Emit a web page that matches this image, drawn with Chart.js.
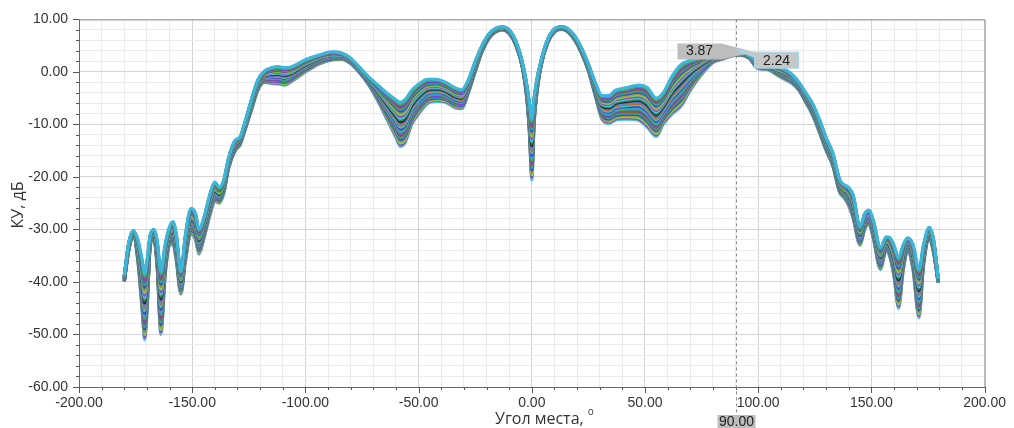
<!DOCTYPE html>
<html>
<head>
<meta charset="utf-8">
<script src="https://cdn.jsdelivr.net/npm/chart.js@4/dist/chart.umd.min.js"></script>
<style>
  html, body { margin: 0; padding: 0; background: #fff; }
  #wrap { width: 1014px; height: 428px; }
</style>
</head>
<body>
<div id="wrap"><canvas id="chart" width="1014" height="428"></canvas></div>
<script>
// elevation angle, deg
const angles = [
  -180, -178, -176, -174, -172, -171, -170, -168.5, -167, -165.5, -163.8, -162, -160, -158.5, -157, -155,
  -153, -150.5, -148.5, -147, -145, -142, -140, -138, -136, -134, -131, -129, -127, -124, -121, -118,
  -115, -112, -109, -106, -100, -94, -88, -84, -80, -76, -72, -68, -64, -60, -58, -56,
  -53, -50, -46, -42, -38, -34, -31, -28, -25, -22, -19, -16, -13, -10, -7, -4,
  -2, -1, 0, 1, 2, 4, 7, 10, 13, 16, 19, 22, 25, 28, 31, 34,
  37, 42, 47, 51, 55, 58, 62, 66, 70, 75, 80, 84, 88, 92, 96, 100,
  104, 108, 112, 115, 118, 121, 124, 127, 130, 133, 136, 138, 140, 142, 145, 147,
  149, 151, 154, 156.5, 158, 160, 162, 164, 166, 168.5, 171, 173, 175.5, 177.5, 179.5
]
// upper edge of the pattern bundle, dB
const upperDb = [
  -38.8, -32.5, -30.2, -32, -36, -38.5, -36, -31, -30, -32, -38, -33, -29.5, -28.5, -31, -38,
  -31, -26, -27, -30, -28, -23, -21, -22, -20.5, -16.5, -13, -12.5, -10, -5.5, -1.5, 0.2,
  0.8, 1.0, 0.8, 1.0, 2.3, 3.2, 3.8, 3.6, 2.6, 0.8, -1.0, -2.5, -4.0, -5.3, -5.8, -5.3,
  -3.5, -2.3, -1.4, -1.4, -2.0, -3.0, -3.4, -1.5, 2.0, 5.0, 7.2, 8.3, 8.6, 8.0, 5.8, 1.5,
  -3, -6, -9, -5, -2, 2.0, 6.2, 8.2, 8.6, 8.2, 6.8, 4.5, 1.5, -2.0, -4.5, -4.5,
  -3.5, -3.0, -2.5, -3.0, -5.0, -4.0, -0.8, 1.4, 2.2, 2.8, 3.5, 3.6, 3.7, 3.7, 3.2, 1.8,
  1.4, 1.1, 0.4, -0.5, -2.0, -4.0, -6.0, -9, -12.5, -15.5, -20.5, -21.5, -22, -23.5, -29.5, -27,
  -26.3, -28.5, -33.5, -31.4, -31.5, -33, -35.4, -33, -31.6, -33, -37.6, -33, -29.6, -32, -39.4
]
// lower edge of the pattern bundle, dB
const lowerDb = [
  -40, -34, -31.3, -36, -46, -51, -46, -33, -31.8, -37, -50, -39, -33, -32.8, -36, -42.3,
  -36, -31, -32, -34.7, -32, -27, -24.6, -25, -23, -18.5, -15, -14, -11.5, -7.5, -3.5, -2,
  -2.2, -2.3, -2.5, -1.8, 0, 1.5, 2.3, 2.4, 1.6, -0.2, -2.5, -5.5, -9.0, -12.5, -14.2, -13.5,
  -10, -8, -6, -5.6, -5.8, -6.8, -7, -4, 0.0, 3.8, 6.3, 7.6, 8.0, 7.3, 5.0, 0.5,
  -6, -12, -20.5, -10, -5, 1.0, 5.5, 7.6, 8.1, 7.6, 6.0, 3.5, 0.2, -4.5, -9.0, -9.8,
  -9.2, -9.0, -9.2, -10.5, -12.3, -10, -8, -6.5, -3.5, -0.5, 1.8, 2.4, 3.0, 3.2, 2.6, 0.6,
  0.5, -0.5, -1.5, -2.2, -3.5, -5.8, -8.2, -11.5, -15, -18, -23, -24, -25.5, -28, -33, -30,
  -29, -32, -37.6, -34, -35, -39, -45, -38, -34, -38, -46.8, -37, -32, -34.5, -40.2
]
const lineColors = [
  '#29a9e0', '#3cb043', '#7b3fe4', '#9a5b2a', '#1bb5a5', '#3a45e0', '#9a9a2a', '#66dd55',
  '#b03ab8', '#40c8f0', '#2e8b3e', '#2a2a2a', '#5a7de8', '#c07030', '#30d0b0', '#6a30c0'
]
const seriesCount = 26
const cursorAngle = 90
const cursorValues = [3.87, 2.24]
const xMin = -200, xMax = 200, xMajor = 50, xMinor = 10
const yMin = -60, yMax = 10, yMajor = 10, yMinor = 2

// dataset 0 is painted last in Chart.js, so the cyan upper curve goes first
const datasets = []
for (let k = 0; k < seriesCount; k++) {
  const w = 1 - k / (seriesCount - 1)
  datasets.push({
    data: angles.map((a, i) => ({ x: a, y: lowerDb[i] + (upperDb[i] - lowerDb[i]) * w })),
    borderColor: k === 0 ? '#3db6de' : lineColors[k % lineColors.length],
    borderWidth: 3.2,
    pointRadius: 0,
    cubicInterpolationMode: 'monotone',
    fill: false
  })
}

const isMajor = (v, step) => Math.abs(v / step - Math.round(v / step)) < 1e-6
const titleFont = '"Open Sans", "Liberation Sans", sans-serif'

const extrasPlugin = {
  id: 'extras',
  afterDraw(chart) {
    const ctx = chart.ctx
    const xs = chart.scales.x, ys = chart.scales.y
    const a = chart.chartArea
    ctx.save()

    // frame top / right
    ctx.strokeStyle = '#8c8c8c'
    ctx.lineWidth = 1
    ctx.beginPath()
    ctx.moveTo(a.left, a.top + 0.5)
    ctx.lineTo(a.right + 0.5, a.top + 0.5)
    ctx.lineTo(a.right + 0.5, a.bottom)
    ctx.stroke()

    // tick marks
    ctx.strokeStyle = '#555'
    ctx.beginPath()
    for (let v = xMin; v <= xMax; v += xMinor) {
      const px = Math.round(xs.getPixelForValue(v)) + 0.5
      const len = isMajor(v, xMajor) ? 6 : 3
      ctx.moveTo(px, a.bottom)
      ctx.lineTo(px, a.bottom + len)
    }
    for (let v = yMin; v <= yMax; v += yMinor) {
      const py = Math.round(ys.getPixelForValue(v)) + 0.5
      const len = isMajor(v, yMajor) ? 6 : 3
      ctx.moveTo(a.left, py)
      ctx.lineTo(a.left - len, py)
    }
    ctx.stroke()

    // cursor line
    const cx = Math.round(xs.getPixelForValue(cursorAngle)) + 0.5
    ctx.strokeStyle = '#888'
    ctx.setLineDash([3, 3])
    ctx.beginPath()
    ctx.moveTo(cx, a.top)
    ctx.lineTo(cx, 416)
    ctx.stroke()
    ctx.setLineDash([])

    ctx.font = '14px "Liberation Sans", Arial, sans-serif'
    ctx.textBaseline = 'middle'
    ctx.textAlign = 'center'

    // value callouts
    const y1 = ys.getPixelForValue(cursorValues[0])
    const b1r = cx - 15, b1l = b1r - 44
    ctx.fillStyle = '#bdbdbd'
    ctx.beginPath()
    ctx.moveTo(b1l, y1 - 8)
    ctx.lineTo(b1r, y1 - 8)
    ctx.lineTo(cx + 12, y1 - 1)
    ctx.lineTo(cx + 12, y1 + 2)
    ctx.lineTo(b1r, y1 + 8)
    ctx.lineTo(b1l, y1 + 8)
    ctx.closePath()
    ctx.fill()
    ctx.fillStyle = '#222'
    ctx.fillText(cursorValues[0].toFixed(2), (b1l + b1r) / 2, y1)

    const y2 = ys.getPixelForValue(cursorValues[1])
    const b2l = cx + 18, b2r = b2l + 44
    ctx.fillStyle = '#c6c6c6'
    ctx.strokeStyle = '#9fd8ec'
    ctx.beginPath()
    ctx.moveTo(cx, y2 - 10)
    ctx.lineTo(b2l, y2 - 8)
    ctx.lineTo(b2r, y2 - 8)
    ctx.lineTo(b2r, y2 + 8)
    ctx.lineTo(b2l, y2 + 8)
    ctx.lineTo(b2l, y2 - 3)
    ctx.closePath()
    ctx.fill()
    ctx.stroke()
    ctx.fillStyle = '#222'
    ctx.fillText(cursorValues[1].toFixed(2), (b2l + b2r) / 2, y2 + 1)

    // cursor position label
    ctx.fillStyle = '#bdbdbd'
    ctx.fillRect(cx - 19, 415, 38, 14)
    ctx.fillStyle = '#222'
    ctx.fillText(cursorAngle.toFixed(2), cx, 422)

    // axis titles
    ctx.fillStyle = '#333'
    ctx.textAlign = 'left'
    ctx.font = '16px ' + titleFont
    const t = 'Угол места,'
    ctx.fillText(t, 495, 419)
    const tw = ctx.measureText(t).width
    ctx.font = '10px ' + titleFont
    ctx.fillText('o', 495 + tw + 4, 412)

    ctx.font = '16px ' + titleFont
    ctx.translate(18, 205)
    ctx.rotate(-Math.PI / 2)
    ctx.textAlign = 'center'
    ctx.fillText('КУ, дБ', 0, 0)
    ctx.restore()
  }
}

new Chart(document.getElementById('chart').getContext('2d'), {
  type: 'line',
  data: { datasets },
  options: {
    responsive: false,
    animation: false,
    events: [],
    layout: { padding: { left: 0, top: 17, right: 27, bottom: 0 } },
    plugins: { legend: { display: false }, tooltip: { enabled: false } },
    scales: {
      x: {
        type: 'linear',
        min: xMin,
        max: xMax,
        afterFit: (s) => { s.height = 41 },
        border: { display: true, color: '#666' },
        grid: {
          drawTicks: false,
          color: (c) => isMajor(c.tick.value, xMajor) ? '#d4d4d4' : '#ebebeb'
        },
        ticks: {
          stepSize: xMinor,
          autoSkip: false,
          maxRotation: 0,
          padding: 8,
          color: '#333',
          font: { family: '"Liberation Sans", Arial, sans-serif', size: 14 },
          callback: (v) => isMajor(v, xMajor) ? v.toFixed(2) : ''
        }
      },
      y: {
        type: 'linear',
        min: yMin,
        max: yMax,
        afterFit: (s) => { s.width = 79 },
        border: { display: true, color: '#666' },
        grid: {
          drawTicks: false,
          color: (c) => isMajor(c.tick.value, yMajor) ? '#d4d4d4' : '#ebebeb'
        },
        ticks: {
          stepSize: yMinor,
          autoSkip: false,
          padding: 11,
          color: '#333',
          font: { family: '"Liberation Sans", Arial, sans-serif', size: 14 },
          callback: (v) => isMajor(v, yMajor) ? v.toFixed(2) : ''
        }
      }
    }
  },
  plugins: [extrasPlugin]
})
</script>
</body>
</html>
